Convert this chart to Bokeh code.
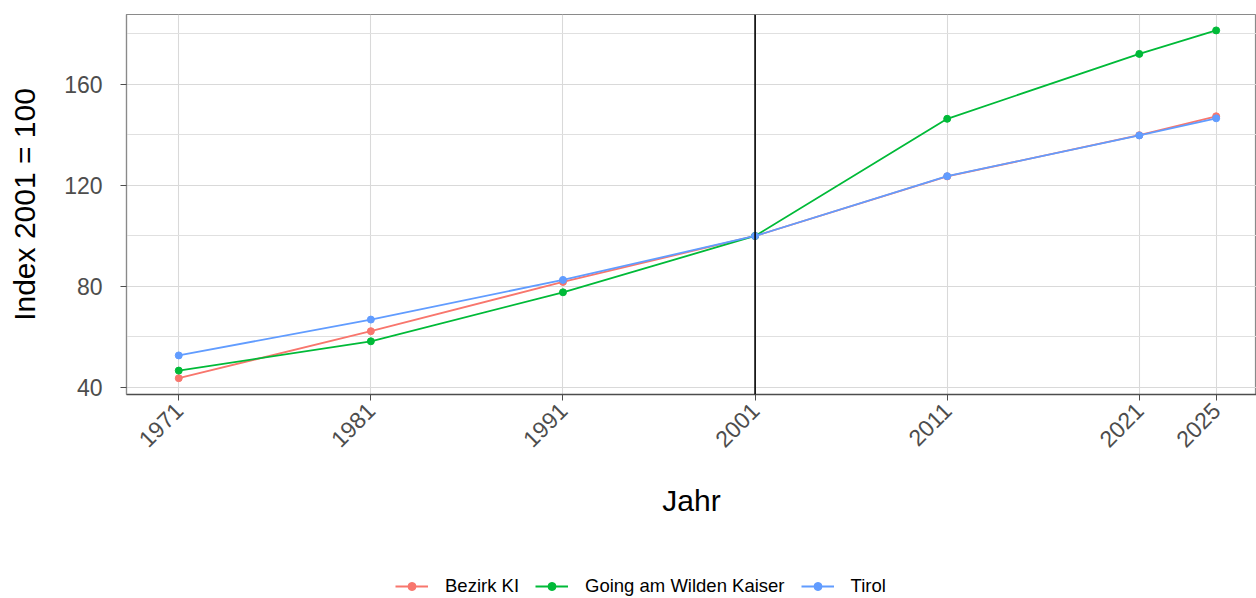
import math
from bokeh.plotting import figure
from bokeh.layouts import column
from bokeh.models import FixedTicker, Span, Legend, LegendItem, Range1d
from bokeh.embed import file_html
from bokeh.resources import INLINE

# ---- data ----
years = [1971, 1981, 1991, 2001, 2011, 2021, 2025]
series_names = ["Bezirk KI", "Going am Wilden Kaiser", "Tirol"]
bezirk_ki = [43.7, 62.3, 81.8, 100.0, 123.6, 139.9, 147.4]
going_am_wilden_kaiser = [46.7, 58.3, 77.7, 100.0, 146.4, 172.1, 181.4]
tirol = [52.7, 66.9, 82.6, 100.0, 123.7, 139.8, 146.6]
series_colors = ["#F8766D", "#00BA38", "#619CFF"]
x_ticks = [1971, 1981, 1991, 2001, 2011, 2021, 2025]
y_ticks = [40, 80, 120, 160]
y_minor_ticks = [60, 100, 140, 180]
reference_year = 2001

FONT = "Liberation Sans"

p = figure(
    width=1256, height=560,
    x_range=Range1d(1968.28, 2027.1),
    y_range=Range1d(37.23, 187.7),
    output_backend="svg", toolbar_location=None,
    min_border_left=126, min_border_right=0,
    min_border_top=14, min_border_bottom=166,
)
p.background_fill_color = "white"
p.border_fill_color = "white"
p.outline_line_color = "#8A8A8A"
p.outline_line_width = 1.2

# grids
p.xaxis.ticker = FixedTicker(ticks=x_ticks)
p.yaxis.ticker = FixedTicker(ticks=y_ticks, minor_ticks=y_minor_ticks)
for g in (p.xgrid, p.ygrid):
    g.grid_line_color = "#D9D9D9"
    g.grid_line_width = 1.1
p.ygrid.minor_grid_line_color = "#E0E0E0"
p.ygrid.minor_grid_line_width = 1.0

# axes
for ax in (p.xaxis, p.yaxis):
    ax.major_tick_out = 6
    ax.major_tick_in = 0
    ax.minor_tick_line_color = None
    ax.major_tick_line_color = "#4D4D4D"
    ax.major_label_text_font = FONT
    ax.major_label_text_font_size = "23px"
    ax.major_label_text_color = "#4D4D4D"
    ax.axis_label_text_font = FONT
    ax.axis_label_text_font_size = "30px"
    ax.axis_label_text_font_style = "normal"
    ax.axis_label_text_color = "black"

p.xaxis.axis_label = "Jahr"
p.yaxis.axis_label = "Index 2001 = 100"
p.xaxis.major_label_orientation = math.pi / 4
p.xaxis.major_label_standoff = 6
p.xaxis.axis_label_standoff = 26
p.yaxis.major_label_standoff = 18
p.yaxis.axis_label_standoff = 20
p.xaxis.axis_line_color = "#4D4D4D"
p.xaxis.axis_line_width = 1.5
p.yaxis.axis_line_color = "#8A8A8A"
p.yaxis.axis_line_width = 1.2

series_values = [bezirk_ki, going_am_wilden_kaiser, tirol]
for name, vals, col in zip(series_names, series_values, series_colors):
    p.line(years, vals, line_color=col, line_width=1.8)
    p.scatter(years, vals, marker="circle", size=7, fill_color=col, line_color=col)

p.add_layout(Span(location=reference_year, dimension="height", line_color="black", line_width=1.6))

# ---- legend strip below the chart (its renderers lie outside its view) ----
lg = figure(
    width=1256, height=38,
    x_range=Range1d(0, 1), y_range=Range1d(0, 1),
    output_backend="svg", toolbar_location=None,
    x_axis_location=None, y_axis_location=None,
    min_border=0,
)
lg.outline_line_color = None
lg.xgrid.visible = False
lg.ygrid.visible = False
lg.background_fill_color = "white"
lg.border_fill_color = "white"

items = []
for name, vals, col in zip(series_names, series_values, series_colors):
    lr = lg.line(years, vals, line_color=col, line_width=1.8)
    sr = lg.scatter(years, vals, marker="circle", size=7, fill_color=col, line_color=col)
    items.append(LegendItem(label=name, renderers=[lr, sr]))

legend = Legend(
    items=items, orientation="horizontal", location=(269, 1),
    label_text_font=FONT, label_text_font_size="18.5px", label_text_color="black",
    glyph_width=33, glyph_height=20, label_standoff=17, spacing=16, padding=0, margin=0,
    border_line_color=None, background_fill_alpha=0,
)
lg.add_layout(legend)

layout = column(p, lg, spacing=0)
open("out.html", "w").write(file_html(layout, INLINE))
